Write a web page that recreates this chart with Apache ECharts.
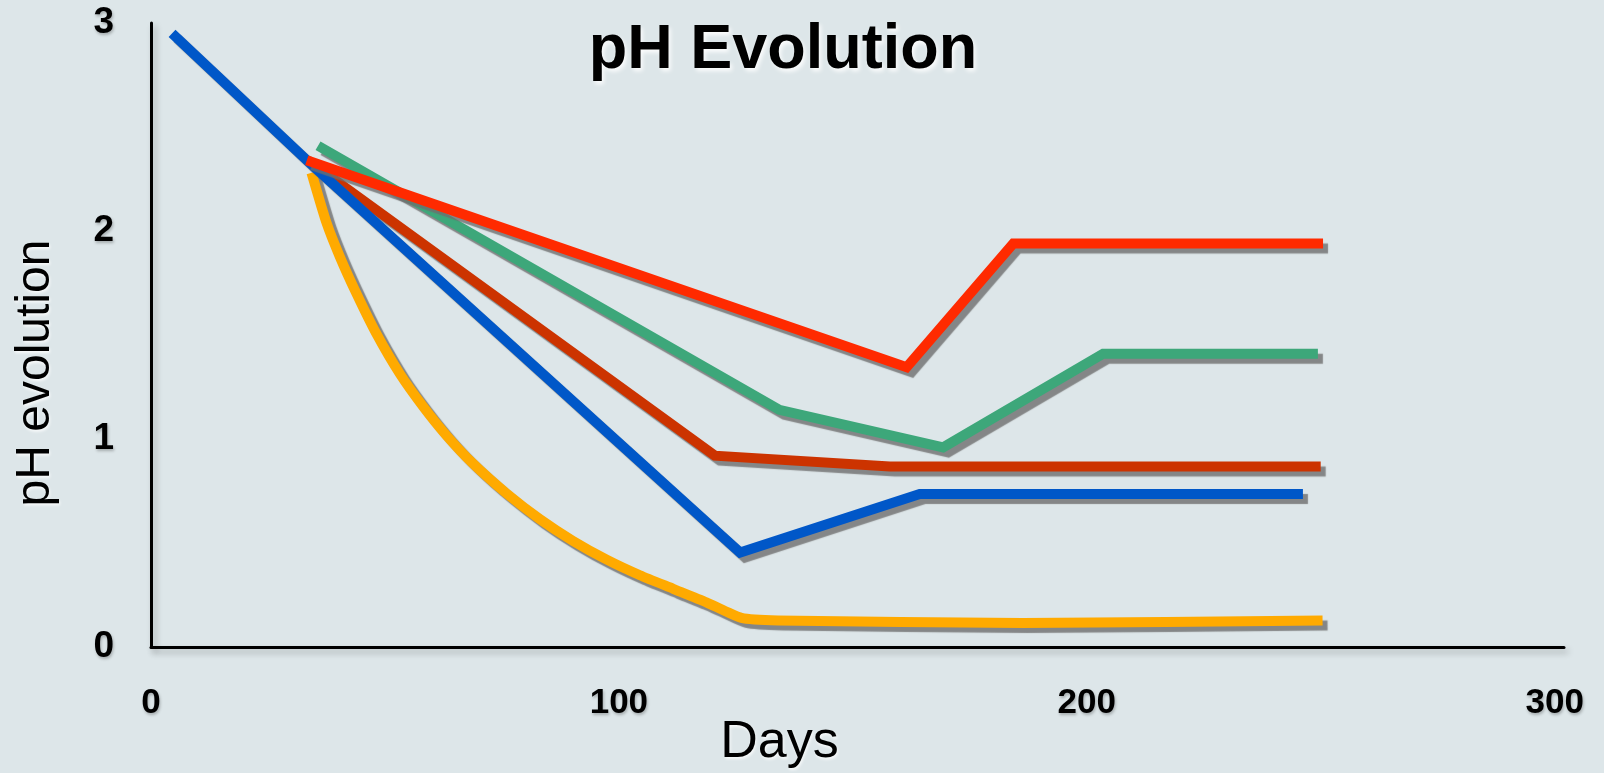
<!DOCTYPE html>
<html>
<head>
<meta charset="utf-8">
<script src="https://cdn.jsdelivr.net/npm/echarts@6/dist/echarts.min.js"></script>
<style>
html,body{margin:0;padding:0;background:#dde6e9;}
#chart{width:1604px;height:773px;}
</style>
</head>
<body>
<div id="chart"></div>
<script>
// ---- data ----
const titleText = "pH Evolution";
const xName = "Days";
const yName = "pH evolution";
const xTicks = [0, 100, 200, 300];
const yTicks = [0, 1, 2, 3];

const blueDays = [4.5, 33.8, 125.9, 164.3, 246.2];
const bluePH   = [2.95, 2.33, 0.454, 0.735, 0.735];

const redDays = [33.3, 161.5, 184.3, 250.5];
const redPH   = [2.34, 1.345, 1.94, 1.94];

const greenDays = [35.7, 134.3, 169.3, 203.5, 249.4];
const greenPH   = [2.41, 1.14, 0.96, 1.41, 1.41];

const darkRedDays = [33.5, 120.5, 157.9, 250.0];
const darkRedPH   = [2.34, 0.92, 0.868, 0.868];

const orangeDays = [34.3, 37.5, 40.4, 43.9, 48.2, 53.2, 58.2, 63.2, 68.9, 76.0, 83.1, 90.2, 97.4, 104.5, 111.6, 118.7, 126.2, 134.0, 186.3, 250.4];
const orangePH   = [2.28, 2.04, 1.874, 1.70, 1.505, 1.313, 1.155, 1.016, 0.88, 0.738, 0.615, 0.51, 0.42, 0.345, 0.28, 0.215, 0.14, 0.128, 0.115, 0.128];

function pairs(xs, ys){ return xs.map((x,i)=>[x, ys[i]]); }

const FONT = "'Liberation Sans', Arial, Helvetica, sans-serif";

function lineSeries(name, xs, ys, color, z, smooth){
  return {
    name: name,
    type: 'line',
    data: pairs(xs, ys),
    showSymbol: false,
    symbol: 'none',
    smooth: smooth || false,
    z: z,
    lineStyle: {
      color: color,
      width: 10,
      cap: 'butt',
      join: 'miter',
      shadowColor: 'rgba(110,110,110,0.8)',
      shadowBlur: 1,
      shadowOffsetX: 5,
      shadowOffsetY: 5
    },
    emphasis: { disabled: true }
  };
}

const chart = echarts.init(document.getElementById('chart'), null, {renderer: 'canvas'});
chart.setOption({
  animation: false,
  backgroundColor: '#dde6e9',
  title: {
    text: titleText,
    left: 778,
    top: 14,
    textAlign: 'center',
    textStyle: {
      fontFamily: FONT,
      fontSize: 63,
      fontWeight: 'bold',
      color: '#000',
      textShadowColor: 'rgba(255,255,255,0.9)',
      textShadowBlur: 4,
      textShadowOffsetX: 2,
      textShadowOffsetY: 3
    }
  },
  grid: { left: 151, right: 40, top: 23, bottom: 126, containLabel: false, outerBoundsMode: 'none' },
  xAxis: {
    type: 'value',
    min: 0,
    max: 302,
    name: xName,
    nameLocation: 'middle',
    nameGap: 70,
    nameMoveOverlap: false,
    nameTextStyle: {
      fontFamily: FONT, fontSize: 52, color: '#000',
      padding: [0, 156, 0, 0],
      textShadowColor: 'rgba(255,255,255,0.8)', textShadowBlur: 3, textShadowOffsetX: 1, textShadowOffsetY: 2
    },
    splitLine: { show: false },
    axisTick: { show: false },
    axisLine: { show: true, onZero: false, lineStyle: { color: '#000', width: 3, shadowColor: 'rgba(0,0,0,0.25)', shadowBlur: 6, shadowOffsetX: 3, shadowOffsetY: 4 } },
    axisLabel: {
      customValues: xTicks,
      margin: 39,
      fontFamily: FONT, fontSize: 35, fontWeight: 'bold', color: '#000',
      textShadowColor: 'rgba(0,0,0,0.25)', textShadowBlur: 3, textShadowOffsetX: 1, textShadowOffsetY: 2
    }
  },
  yAxis: {
    type: 'value',
    min: 0,
    max: 3,
    name: yName,
    nameLocation: 'middle',
    nameRotate: 90,
    nameGap: 91,
    nameMoveOverlap: false,
    nameTextStyle: {
      fontFamily: FONT, fontSize: 48, color: '#000',
      padding: [0, 76, 0, 0],
      textShadowColor: 'rgba(255,255,255,0.8)', textShadowBlur: 3, textShadowOffsetX: 1, textShadowOffsetY: 2
    },
    splitLine: { show: false },
    axisTick: { show: false },
    axisLine: { show: true, onZero: false, lineStyle: { color: '#000', width: 3, shadowColor: 'rgba(0,0,0,0.25)', shadowBlur: 6, shadowOffsetX: 3, shadowOffsetY: 4 } },
    axisLabel: {
      customValues: yTicks,
      margin: 37,
      fontFamily: FONT, fontSize: 37, fontWeight: 'bold', color: '#000',
      textShadowColor: 'rgba(0,0,0,0.25)', textShadowBlur: 3, textShadowOffsetX: 1, textShadowOffsetY: 2
    }
  },
  series: [
    lineSeries('Green', greenDays, greenPH, '#3da77a', 2),
    lineSeries('Dark red', darkRedDays, darkRedPH, '#cc3300', 3),
    lineSeries('Orange', orangeDays, orangePH, '#ffaa00', 4, 0.2),
    lineSeries('Blue', blueDays, bluePH, '#0057c8', 5),
    lineSeries('Red', redDays, redPH, '#ff2a00', 6)
  ]
});
</script>
</body>
</html>
